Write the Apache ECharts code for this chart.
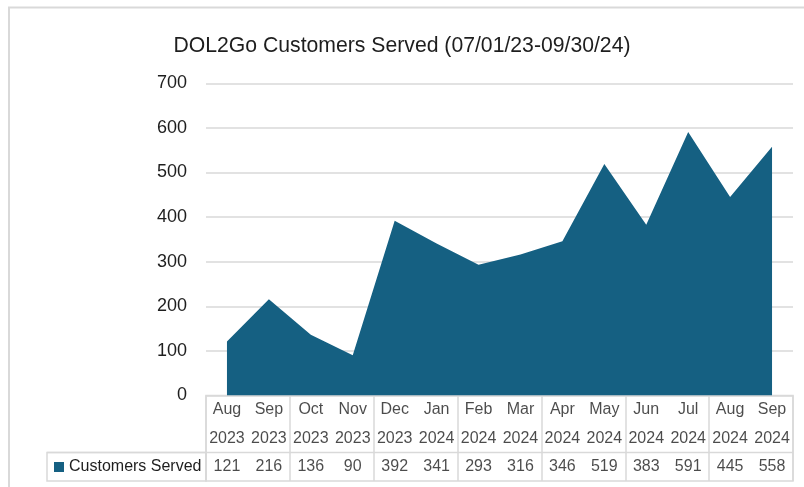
<!DOCTYPE html>
<html>
<head>
<meta charset="utf-8">
<script src="https://cdn.jsdelivr.net/npm/echarts@6/dist/echarts.min.js"></script>
<style>html,body{margin:0;padding:0;background:#fff}#c{width:804px;height:487px}</style>
</head>
<body>
<div id="c"></div>
<script>
const months = ['Aug','Sep','Oct','Nov','Dec','Jan','Feb','Mar','Apr','May','Jun','Jul','Aug','Sep'];
const years = ['2023','2023','2023','2023','2023','2024','2024','2024','2024','2024','2024','2024','2024','2024'];
const customersServed = [121,216,136,90,392,341,293,316,346,519,383,591,445,558];
const yTicks = {min:0, max:700, interval:100};
const seriesName = 'Customers Served';
const cats = months.map((m,i)=>m+' '+years[i]);

const FONT = 'Liberation Sans, Arial, sans-serif';
const TXT = '#1e1e1e';
const GRID_L = 206, GRID_R = 11, PLOT_T = 83.3, PLOT_B = 395.5, TAB_B = 481;
const ROW_SEP = PLOT_B + (TAB_B-PLOT_B)*2/3;
const LEG_L = 47;
const LINE_C = '#d9d9d9';

function rowSeries(row, texts){
  return {
    type:'scatter', xAxisIndex:1, yAxisIndex:1, silent:true, symbolSize:0,
    data: cats.map((c,i)=>({value:[i,row], t:texts[i]})),
    label:{show:true, position:'inside', formatter:p=>String(p.data.t), color:TXT, fontSize:16, fontFamily:FONT}
  };
}

const chart = echarts.init(document.getElementById('c'));
chart.setOption({
  animation:false,
  title:{text:'DOL2Go Customers Served (07/01/23-09/30/24)', left:'center', top:31,
    textStyle:{fontSize:21.2, fontWeight:'normal', color:TXT, fontFamily:FONT}},
  legend:{data:[seriesName], left:54, top:459, padding:0, icon:'rect', itemWidth:10, itemHeight:10,
    textStyle:{fontSize:16, color:TXT, fontFamily:FONT}, selectedMode:false},
  grid:[
    {left:GRID_L, right:GRID_R, top:PLOT_T, height:PLOT_B-PLOT_T},
    {left:GRID_L, right:GRID_R, top:PLOT_B, height:TAB_B-PLOT_B, show:true, borderColor:LINE_C, borderWidth:1.5}
  ],
  xAxis:[
    {type:'category', gridIndex:0, data:cats, boundaryGap:true, axisLine:{show:false}, axisTick:{show:false}, axisLabel:{show:false}},
    {type:'category', gridIndex:1, data:cats, boundaryGap:true, axisLine:{show:false}, axisTick:{show:false}, axisLabel:{show:false},
      splitLine:{show:true, lineStyle:{color:LINE_C, width:1.5}}}
  ],
  yAxis:[
    {type:'value', gridIndex:0, min:yTicks.min, max:yTicks.max, interval:yTicks.interval,
      axisLine:{show:false}, axisTick:{show:false},
      axisLabel:{fontSize:18, color:TXT, margin:19, fontFamily:FONT},
      splitLine:{lineStyle:{color:LINE_C, width:1.5}}},
    {type:'category', gridIndex:1, data:['v','y','m'], axisLine:{show:false}, axisTick:{show:false}, axisLabel:{show:false}, splitLine:{show:false}}
  ],
  series:[
    {name:seriesName, type:'line', xAxisIndex:0, yAxisIndex:0, data:customersServed, symbol:'none',
      itemStyle:{color:'#156082'}, lineStyle:{width:0, color:'#156082'}, areaStyle:{color:'#156082', opacity:1}},
    rowSeries('m', months),
    rowSeries('y', years),
    rowSeries('v', customersServed)
  ],
  graphic:[
    {type:'rect', shape:{x:9, y:7.5, width:900, height:600}, style:{fill:'none', stroke:LINE_C, lineWidth:2}, silent:true},
    {type:'line', shape:{x1:LEG_L, y1:ROW_SEP, x2:804-GRID_R, y2:ROW_SEP}, style:{stroke:LINE_C, lineWidth:1.5}, silent:true},
    {type:'rect', shape:{x:LEG_L, y:ROW_SEP, width:GRID_L-LEG_L, height:TAB_B-ROW_SEP}, style:{fill:'none', stroke:LINE_C, lineWidth:1.5}, silent:true}
  ]
});
</script>
</body>
</html>
